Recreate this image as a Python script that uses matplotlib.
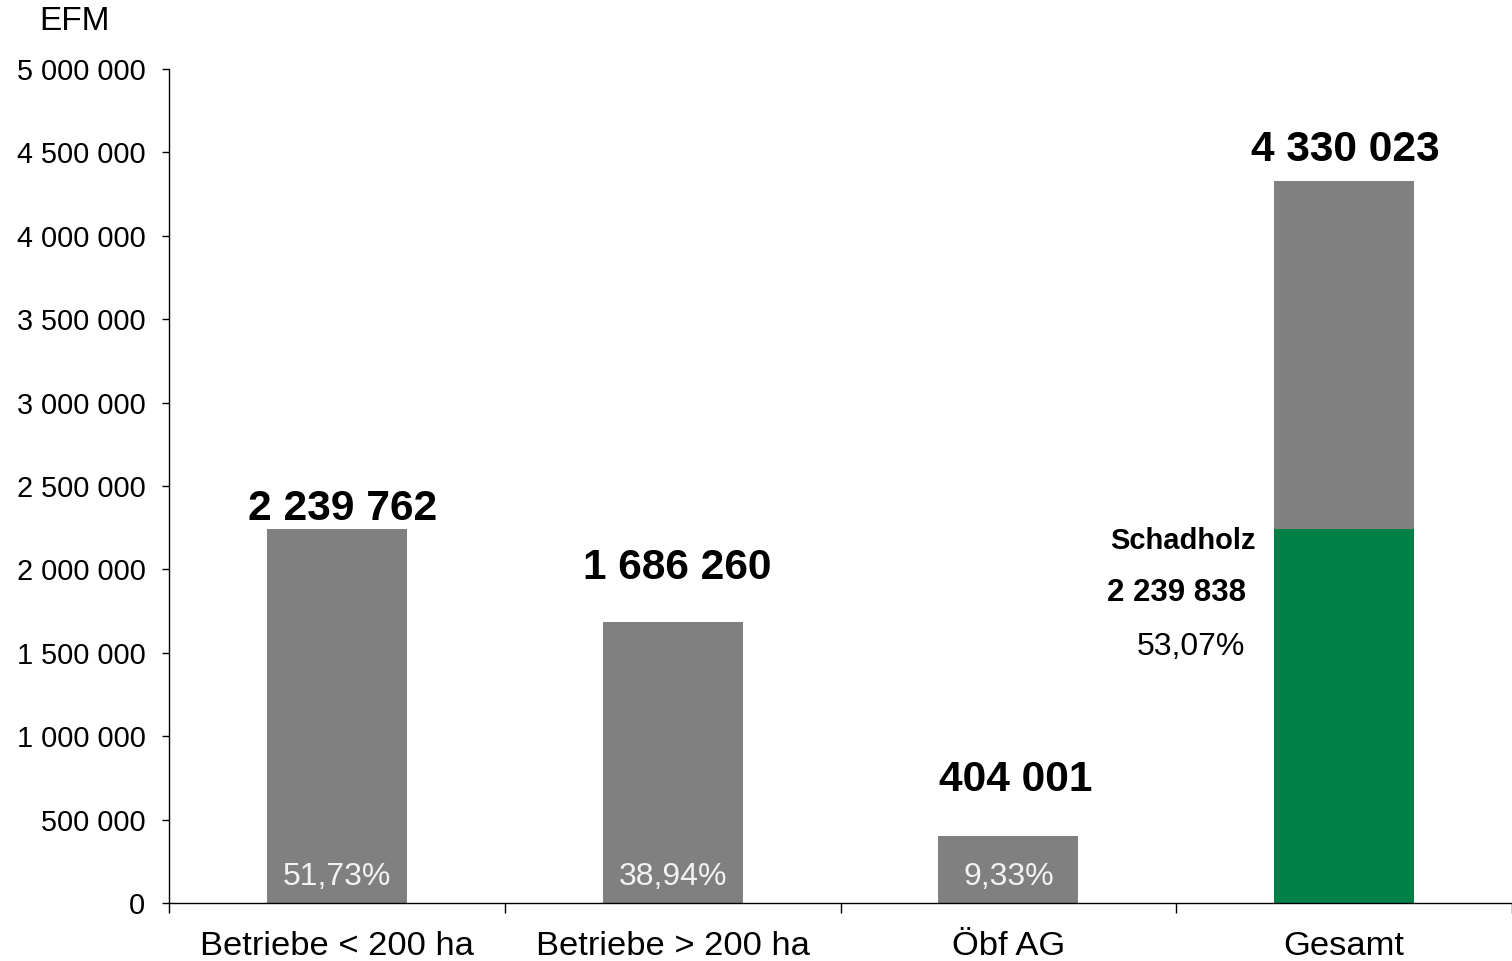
import matplotlib.pyplot as plt
from matplotlib.ticker import FuncFormatter, FixedLocator

plt.rcParams['font.family'] = ['Liberation Sans', 'DejaVu Sans']

categories = ['Betriebe < 200 ha', 'Betriebe > 200 ha', 'Öbf AG', 'Gesamt']
values = [2239762, 1686260, 404001, 4330023]
value_labels = ['2 239 762', '1 686 260', '404 001', '4 330 023']
pct_labels = ['51,73%', '38,94%', '9,33%']
schadholz = 2239838
schadholz_label = '2 239 838'
schadholz_pct = '53,07%'

grey = '#808080'
green = '#007f46'

fig = plt.figure(figsize=(15.12, 9.61), dpi=100)
ax = fig.add_axes([169/1512, 58/961, 1 - 169/1512, (903-69)/961])

x = list(range(len(categories)))
w = 0.417
# first three bars
ax.bar(x[:3], values[:3], width=w, color=grey)
# Gesamt: Schadholz share in green, rest grey on top
ax.bar(x[3], schadholz, width=w, color=green)
ax.bar(x[3], values[3] - schadholz, bottom=schadholz, width=w, color=grey)

ax.set_xlim(-0.5, 3.5)
ax.set_ylim(0, 5000000)

# big value labels above bars
offs = [(4, 14.5), (3, 39), (5, 40), (1, 22)]
for i, (v, lab) in enumerate(zip(values, value_labels)):
    ax.annotate(lab, (x[i], v), xytext=offs[i], textcoords='offset points',
                ha='center', va='center', fontsize=30.6, fontweight='bold')

# share labels inside bars
for i, lab in enumerate(pct_labels):
    ax.annotate(lab, (x[i], 0), xytext=(0, 19), textcoords='offset points',
                ha='center', va='center', fontsize=23, color='#f2f2f2')

# Schadholz annotation left of the Gesamt bar
ax.text(2.737, 2170000, 'Schadholz', ha='right', va='center', fontsize=21, fontweight='bold')
ax.text(2.707, 1858000, schadholz_label, ha='right', va='center', fontsize=22.5, fontweight='bold')
ax.text(2.705, 1535000, schadholz_pct, ha='right', va='center', fontsize=23)

ax.yaxis.set_major_locator(FixedLocator(range(0, 5000001, 500000)))
ax.yaxis.set_major_formatter(FuncFormatter(lambda v, p: f'{int(v):,}'.replace(',', ' ')))
ax.tick_params(axis='y', labelsize=20.8, length=5, pad=12, width=1)

ax.set_xticks(x)
ax.set_xticklabels(categories)
ax.tick_params(axis='x', which='major', length=0, labelsize=24.8, pad=20)
ax.set_xticks([-0.5, 0.5, 1.5, 2.5, 3.5], minor=True)
ax.tick_params(axis='x', which='minor', length=7, width=1, direction='out')

for s in ['top', 'right']:
    ax.spines[s].set_visible(False)
for s in ['left', 'bottom']:
    ax.spines[s].set_linewidth(1)

fig.text(75/1512, 1 - 22/961, 'EFM', ha='center', va='center', fontsize=24)

fig.savefig('out.png', dpi=100)
